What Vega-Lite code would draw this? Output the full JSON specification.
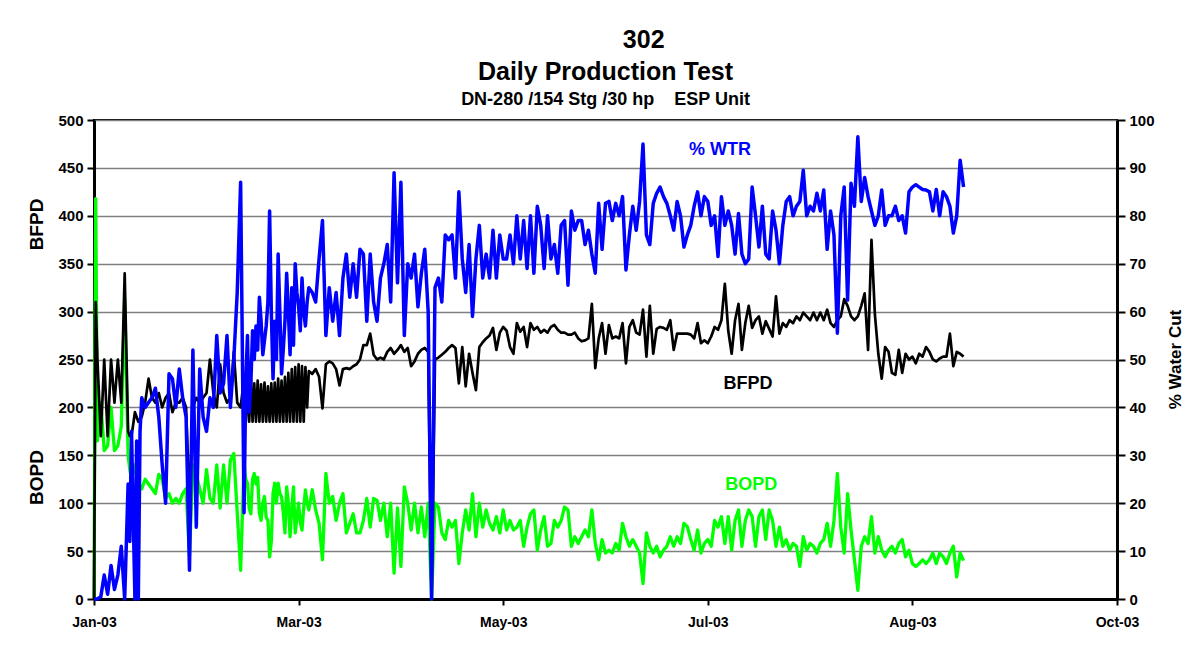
{
"$schema": "https://vega.github.io/schema/vega-lite/v6.json",
"width": 1023, "height": 479,
"autosize": {"type": "none"},
"padding": {"left": 94, "top": 120, "right": 77, "bottom": 64},
"background": "white",
"config": {"view": {"stroke": "#000", "strokeWidth": 2}, "font": "Liberation Sans"},
"title": {
  "text": ["\u200b\u00a0\u00a0\u00a0\u00a0\u00a0\u00a0\u00a0\u00a0\u00a0\u00a0\u00a0302", "Daily Production Test"],
  "subtitle": "DN-280 /154 Stg /30 hp\u00a0\u00a0\u00a0\u00a0ESP Unit",
  "anchor": "middle", "frame": "group",
  "font": "Liberation Sans", "fontSize": 25, "fontWeight": "bold", "color": "#000", "lineHeight": 32,
  "subtitleFont": "Liberation Sans", "subtitleFontSize": 18, "subtitleFontWeight": "bold", "subtitleColor": "#000", "subtitlePadding": 6,
  "offset": 4
},
"datasets": {
"labels": [
 {"label": "% WTR", "date": "2003-07-04T14:00:00Z", "value": 93.7},
 {"label": "BFPD", "date": "2003-07-12T19:00:00Z", "value": 224},
 {"label": "BOPD", "date": "2003-07-13T17:00:00Z", "value": 119.5}
],
"series": [
{"date":"2003-01-02","bfpd":0,"bopd":0,"wtr":0},
{"date":"2003-01-02T12:00:00Z","bfpd":310,"bopd":418,"wtr":0},
{"date":"2003-01-03","bfpd":250,"bopd":165,"wtr":0},
{"date":"2003-01-04","bfpd":170,"bopd":205,"wtr":0.5},
{"date":"2003-01-05","bfpd":250,"bopd":155,"wtr":5},
{"date":"2003-01-06","bfpd":170,"bopd":160,"wtr":1},
{"date":"2003-01-07","bfpd":250,"bopd":200,"wtr":7},
{"date":"2003-01-08","bfpd":205,"bopd":155,"wtr":2},
{"date":"2003-01-09","bfpd":250,"bopd":160,"wtr":5},
{"date":"2003-01-10","bfpd":205,"bopd":180,"wtr":11},
{"date":"2003-01-11","bfpd":340,"bopd":313,"wtr":0},
{"date":"2003-01-12","bfpd":175,"bopd":150,"wtr":24},
{"date":"2003-01-12T12:00:00Z","bfpd":170,"bopd":135,"wtr":12},
{"date":"2003-01-13","bfpd":170,"bopd":125,"wtr":35},
{"date":"2003-01-14","bfpd":195,"bopd":140,"wtr":0},
{"date":"2003-01-14T12:00:00Z","bfpd":190,"bopd":130,"wtr":33},
{"date":"2003-01-15","bfpd":185,"bopd":120,"wtr":0},
{"date":"2003-01-15T12:00:00Z","bfpd":188,"bopd":118,"wtr":35},
{"date":"2003-01-16","bfpd":190,"bopd":115,"wtr":42},
{"date":"2003-01-17","bfpd":205,"bopd":125,"wtr":40},
{"date":"2003-01-18","bfpd":230,"bopd":120,"wtr":41},
{"date":"2003-01-19","bfpd":210,"bopd":115,"wtr":42},
{"date":"2003-01-20","bfpd":205,"bopd":110,"wtr":44},
{"date":"2003-01-21","bfpd":215,"bopd":130,"wtr":38},
{"date":"2003-01-22","bfpd":200,"bopd":125,"wtr":28},
{"date":"2003-01-23","bfpd":210,"bopd":105,"wtr":20},
{"date":"2003-01-24","bfpd":215,"bopd":110,"wtr":47},
{"date":"2003-01-25","bfpd":195,"bopd":100,"wtr":46},
{"date":"2003-01-26","bfpd":205,"bopd":105,"wtr":40},
{"date":"2003-01-27","bfpd":205,"bopd":100,"wtr":48},
{"date":"2003-01-28","bfpd":210,"bopd":110,"wtr":42},
{"date":"2003-01-29","bfpd":200,"bopd":115,"wtr":38},
{"date":"2003-01-30","bfpd":100,"bopd":45,"wtr":6},
{"date":"2003-01-31","bfpd":200,"bopd":140,"wtr":52},
{"date":"2003-02-01","bfpd":210,"bopd":130,"wtr":15},
{"date":"2003-02-02","bfpd":205,"bopd":115,"wtr":48},
{"date":"2003-02-03","bfpd":210,"bopd":100,"wtr":38},
{"date":"2003-02-04","bfpd":215,"bopd":135,"wtr":35},
{"date":"2003-02-05","bfpd":250,"bopd":105,"wtr":42},
{"date":"2003-02-06","bfpd":215,"bopd":100,"wtr":40},
{"date":"2003-02-07","bfpd":200,"bopd":140,"wtr":55},
{"date":"2003-02-08","bfpd":245,"bopd":95,"wtr":43},
{"date":"2003-02-09","bfpd":215,"bopd":140,"wtr":45},
{"date":"2003-02-10","bfpd":205,"bopd":100,"wtr":55},
{"date":"2003-02-11","bfpd":210,"bopd":145,"wtr":40},
{"date":"2003-02-12","bfpd":258,"bopd":152,"wtr":50},
{"date":"2003-02-13","bfpd":205,"bopd":90,"wtr":64},
{"date":"2003-02-14","bfpd":200,"bopd":30,"wtr":87},
{"date":"2003-02-15","bfpd":230,"bopd":142,"wtr":18},
{"date":"2003-02-15T12:00:00Z","bfpd":185,"bopd":125,"wtr":45},
{"date":"2003-02-16","bfpd":228,"bopd":121,"wtr":55},
{"date":"2003-02-16T12:00:00Z","bfpd":185,"bopd":95,"wtr":39},
{"date":"2003-02-17","bfpd":230,"bopd":89,"wtr":45},
{"date":"2003-02-17T12:00:00Z","bfpd":185,"bopd":125,"wtr":56},
{"date":"2003-02-18","bfpd":225,"bopd":131,"wtr":50},
{"date":"2003-02-18T12:00:00Z","bfpd":185,"bopd":120,"wtr":57},
{"date":"2003-02-19","bfpd":228,"bopd":127,"wtr":52},
{"date":"2003-02-19T12:00:00Z","bfpd":185,"bopd":90,"wtr":63},
{"date":"2003-02-20","bfpd":224,"bopd":82,"wtr":58},
{"date":"2003-02-20T12:00:00Z","bfpd":185,"bopd":100,"wtr":51},
{"date":"2003-02-21","bfpd":226,"bopd":107,"wtr":54},
{"date":"2003-02-21T12:00:00Z","bfpd":185,"bopd":85,"wtr":57},
{"date":"2003-02-22","bfpd":222,"bopd":82,"wtr":62},
{"date":"2003-02-22T12:00:00Z","bfpd":185,"bopd":44,"wtr":81},
{"date":"2003-02-23","bfpd":225,"bopd":60,"wtr":60},
{"date":"2003-02-23T12:00:00Z","bfpd":185,"bopd":110,"wtr":46},
{"date":"2003-02-24","bfpd":226,"bopd":121,"wtr":58},
{"date":"2003-02-24T12:00:00Z","bfpd":185,"bopd":100,"wtr":50},
{"date":"2003-02-25","bfpd":230,"bopd":121,"wtr":72},
{"date":"2003-02-25T12:00:00Z","bfpd":185,"bopd":110,"wtr":60},
{"date":"2003-02-26","bfpd":228,"bopd":107,"wtr":47},
{"date":"2003-02-26T12:00:00Z","bfpd":185,"bopd":90,"wtr":52},
{"date":"2003-02-27","bfpd":232,"bopd":69,"wtr":58},
{"date":"2003-02-27T12:00:00Z","bfpd":185,"bopd":117,"wtr":68},
{"date":"2003-02-28","bfpd":236,"bopd":100,"wtr":60},
{"date":"2003-02-28T12:00:00Z","bfpd":185,"bopd":65,"wtr":51},
{"date":"2003-03-01","bfpd":240,"bopd":95,"wtr":65},
{"date":"2003-03-01T12:00:00Z","bfpd":185,"bopd":117,"wtr":53},
{"date":"2003-03-02","bfpd":242,"bopd":69,"wtr":70},
{"date":"2003-03-02T12:00:00Z","bfpd":185,"bopd":85,"wtr":64},
{"date":"2003-03-03","bfpd":245,"bopd":100,"wtr":61},
{"date":"2003-03-03T12:00:00Z","bfpd":185,"bopd":80,"wtr":56},
{"date":"2003-03-04","bfpd":243,"bopd":72,"wtr":67},
{"date":"2003-03-04T12:00:00Z","bfpd":185,"bopd":95,"wtr":60},
{"date":"2003-03-05","bfpd":242,"bopd":114,"wtr":57},
{"date":"2003-03-05T12:00:00Z","bfpd":200,"bopd":100,"wtr":62},
{"date":"2003-03-06","bfpd":238,"bopd":93,"wtr":65},
{"date":"2003-03-07","bfpd":235,"bopd":114,"wtr":64},
{"date":"2003-03-08","bfpd":240,"bopd":93,"wtr":62},
{"date":"2003-03-09","bfpd":232,"bopd":79,"wtr":71},
{"date":"2003-03-10","bfpd":199,"bopd":41,"wtr":79},
{"date":"2003-03-11","bfpd":245,"bopd":131,"wtr":55},
{"date":"2003-03-12","bfpd":248,"bopd":100,"wtr":65},
{"date":"2003-03-13","bfpd":246,"bopd":107,"wtr":58},
{"date":"2003-03-14","bfpd":240,"bopd":82,"wtr":64},
{"date":"2003-03-15","bfpd":223,"bopd":100,"wtr":55},
{"date":"2003-03-16","bfpd":240,"bopd":110,"wtr":67},
{"date":"2003-03-17","bfpd":241,"bopd":69,"wtr":72},
{"date":"2003-03-18","bfpd":240,"bopd":79,"wtr":63},
{"date":"2003-03-19","bfpd":243,"bopd":89,"wtr":70},
{"date":"2003-03-20","bfpd":245,"bopd":69,"wtr":63},
{"date":"2003-03-21","bfpd":250,"bopd":69,"wtr":73},
{"date":"2003-03-22","bfpd":265,"bopd":82,"wtr":72},
{"date":"2003-03-23","bfpd":265,"bopd":105,"wtr":58},
{"date":"2003-03-24","bfpd":277,"bopd":75,"wtr":72},
{"date":"2003-03-25","bfpd":255,"bopd":105,"wtr":62},
{"date":"2003-03-26","bfpd":250,"bopd":103,"wtr":58},
{"date":"2003-03-27","bfpd":252,"bopd":82,"wtr":67},
{"date":"2003-03-28","bfpd":250,"bopd":100,"wtr":70},
{"date":"2003-03-29","bfpd":258,"bopd":65,"wtr":74},
{"date":"2003-03-30","bfpd":262,"bopd":100,"wtr":62},
{"date":"2003-03-31","bfpd":256,"bopd":27,"wtr":89},
{"date":"2003-04-01","bfpd":260,"bopd":95,"wtr":66},
{"date":"2003-04-02","bfpd":265,"bopd":34,"wtr":87},
{"date":"2003-04-03","bfpd":258,"bopd":117,"wtr":55},
{"date":"2003-04-04","bfpd":262,"bopd":100,"wtr":70},
{"date":"2003-04-05","bfpd":243,"bopd":72,"wtr":67},
{"date":"2003-04-06","bfpd":248,"bopd":100,"wtr":72},
{"date":"2003-04-07","bfpd":256,"bopd":69,"wtr":61},
{"date":"2003-04-08","bfpd":260,"bopd":96,"wtr":68},
{"date":"2003-04-09","bfpd":262,"bopd":65,"wtr":73},
{"date":"2003-04-10","bfpd":258,"bopd":100,"wtr":60},
{"date":"2003-04-11","bfpd":0,"bopd":0,"wtr":0},
{"date":"2003-04-12","bfpd":250,"bopd":100,"wtr":65},
{"date":"2003-04-13","bfpd":252,"bopd":96,"wtr":67},
{"date":"2003-04-14","bfpd":255,"bopd":69,"wtr":62},
{"date":"2003-04-15","bfpd":258,"bopd":62,"wtr":76},
{"date":"2003-04-16","bfpd":262,"bopd":82,"wtr":75},
{"date":"2003-04-17","bfpd":265,"bopd":75,"wtr":76},
{"date":"2003-04-18","bfpd":262,"bopd":82,"wtr":67},
{"date":"2003-04-19","bfpd":225,"bopd":37,"wtr":85},
{"date":"2003-04-20","bfpd":263,"bopd":69,"wtr":71},
{"date":"2003-04-21","bfpd":222,"bopd":93,"wtr":64},
{"date":"2003-04-22","bfpd":256,"bopd":72,"wtr":74},
{"date":"2003-04-23","bfpd":236,"bopd":110,"wtr":59},
{"date":"2003-04-24","bfpd":218,"bopd":65,"wtr":71},
{"date":"2003-04-25","bfpd":263,"bopd":100,"wtr":78},
{"date":"2003-04-26","bfpd":268,"bopd":75,"wtr":67},
{"date":"2003-04-27","bfpd":272,"bopd":93,"wtr":72},
{"date":"2003-04-28","bfpd":275,"bopd":79,"wtr":67},
{"date":"2003-04-29","bfpd":283,"bopd":72,"wtr":77},
{"date":"2003-04-30","bfpd":260,"bopd":86,"wtr":67},
{"date":"2003-05-01","bfpd":278,"bopd":69,"wtr":76},
{"date":"2003-05-02","bfpd":284,"bopd":93,"wtr":71},
{"date":"2003-05-03","bfpd":280,"bopd":72,"wtr":71},
{"date":"2003-05-04","bfpd":263,"bopd":82,"wtr":76},
{"date":"2003-05-05","bfpd":256,"bopd":72,"wtr":70},
{"date":"2003-05-06","bfpd":288,"bopd":75,"wtr":80},
{"date":"2003-05-07","bfpd":279,"bopd":82,"wtr":71},
{"date":"2003-05-08","bfpd":284,"bopd":55,"wtr":79},
{"date":"2003-05-09","bfpd":263,"bopd":75,"wtr":69},
{"date":"2003-05-10","bfpd":288,"bopd":89,"wtr":80},
{"date":"2003-05-11","bfpd":281,"bopd":93,"wtr":68},
{"date":"2003-05-12","bfpd":284,"bopd":51,"wtr":82},
{"date":"2003-05-13","bfpd":278,"bopd":72,"wtr":78},
{"date":"2003-05-14","bfpd":281,"bopd":86,"wtr":69},
{"date":"2003-05-15","bfpd":278,"bopd":55,"wtr":80},
{"date":"2003-05-16","bfpd":284,"bopd":58,"wtr":71},
{"date":"2003-05-17","bfpd":286,"bopd":82,"wtr":74},
{"date":"2003-05-18","bfpd":281,"bopd":75,"wtr":68},
{"date":"2003-05-19","bfpd":278,"bopd":82,"wtr":78},
{"date":"2003-05-20","bfpd":278,"bopd":96,"wtr":79},
{"date":"2003-05-21","bfpd":276,"bopd":93,"wtr":65.5},
{"date":"2003-05-22","bfpd":276,"bopd":55,"wtr":81},
{"date":"2003-05-23","bfpd":278,"bopd":65,"wtr":77},
{"date":"2003-05-24","bfpd":272,"bopd":58,"wtr":79},
{"date":"2003-05-25","bfpd":269,"bopd":65,"wtr":79},
{"date":"2003-05-26","bfpd":270,"bopd":72,"wtr":74},
{"date":"2003-05-27","bfpd":272,"bopd":65,"wtr":77},
{"date":"2003-05-28","bfpd":308,"bopd":93,"wtr":72},
{"date":"2003-05-29","bfpd":241,"bopd":58,"wtr":68},
{"date":"2003-05-30","bfpd":272,"bopd":41,"wtr":82.6},
{"date":"2003-05-31","bfpd":288,"bopd":62,"wtr":73},
{"date":"2003-06-01","bfpd":256,"bopd":48,"wtr":82.6},
{"date":"2003-06-02","bfpd":286,"bopd":51,"wtr":83},
{"date":"2003-06-03","bfpd":272,"bopd":48,"wtr":79},
{"date":"2003-06-04","bfpd":274,"bopd":58,"wtr":82.6},
{"date":"2003-06-05","bfpd":272,"bopd":51,"wtr":80},
{"date":"2003-06-06","bfpd":288,"bopd":79,"wtr":84},
{"date":"2003-06-07","bfpd":246,"bopd":65,"wtr":68.7},
{"date":"2003-06-08","bfpd":284,"bopd":55,"wtr":76},
{"date":"2003-06-09","bfpd":291,"bopd":62,"wtr":82},
{"date":"2003-06-10","bfpd":278,"bopd":55,"wtr":77},
{"date":"2003-06-11","bfpd":276,"bopd":48,"wtr":83},
{"date":"2003-06-12","bfpd":302,"bopd":16,"wtr":95},
{"date":"2003-06-13","bfpd":253,"bopd":69,"wtr":76},
{"date":"2003-06-14","bfpd":306,"bopd":55,"wtr":74},
{"date":"2003-06-15","bfpd":256,"bopd":48,"wtr":82.6},
{"date":"2003-06-16","bfpd":282,"bopd":55,"wtr":84.7},
{"date":"2003-06-17","bfpd":284,"bopd":44,"wtr":86},
{"date":"2003-06-18","bfpd":283,"bopd":51,"wtr":84},
{"date":"2003-06-19","bfpd":281,"bopd":55,"wtr":82.6},
{"date":"2003-06-20","bfpd":291,"bopd":65,"wtr":80},
{"date":"2003-06-21","bfpd":260,"bopd":55,"wtr":77},
{"date":"2003-06-22","bfpd":277,"bopd":65,"wtr":83},
{"date":"2003-06-23","bfpd":277,"bopd":58,"wtr":80},
{"date":"2003-06-24","bfpd":277,"bopd":79,"wtr":73.5},
{"date":"2003-06-25","bfpd":277,"bopd":75.5,"wtr":76},
{"date":"2003-06-26","bfpd":276,"bopd":62,"wtr":78},
{"date":"2003-06-27","bfpd":272,"bopd":51,"wtr":82},
{"date":"2003-06-28","bfpd":288,"bopd":72,"wtr":85},
{"date":"2003-06-29","bfpd":267,"bopd":48,"wtr":80},
{"date":"2003-06-30","bfpd":270,"bopd":58,"wtr":84},
{"date":"2003-07-01","bfpd":267,"bopd":62,"wtr":83},
{"date":"2003-07-02","bfpd":274,"bopd":55,"wtr":78},
{"date":"2003-07-03","bfpd":284,"bopd":82,"wtr":80},
{"date":"2003-07-04","bfpd":281,"bopd":75,"wtr":71.5},
{"date":"2003-07-05","bfpd":291,"bopd":86,"wtr":84},
{"date":"2003-07-06","bfpd":329,"bopd":58,"wtr":78},
{"date":"2003-07-07","bfpd":280,"bopd":86,"wtr":81},
{"date":"2003-07-08","bfpd":256,"bopd":51,"wtr":78},
{"date":"2003-07-09","bfpd":291,"bopd":82,"wtr":72},
{"date":"2003-07-10","bfpd":308,"bopd":93,"wtr":80.5},
{"date":"2003-07-11","bfpd":260,"bopd":55,"wtr":72},
{"date":"2003-07-12","bfpd":288,"bopd":82,"wtr":70},
{"date":"2003-07-13","bfpd":306,"bopd":93,"wtr":71},
{"date":"2003-07-14","bfpd":283,"bopd":86,"wtr":86},
{"date":"2003-07-15","bfpd":291,"bopd":55,"wtr":80},
{"date":"2003-07-16","bfpd":295,"bopd":86,"wtr":73.5},
{"date":"2003-07-17","bfpd":277,"bopd":93,"wtr":82},
{"date":"2003-07-18","bfpd":290,"bopd":62,"wtr":72},
{"date":"2003-07-19","bfpd":282,"bopd":93,"wtr":71},
{"date":"2003-07-20","bfpd":274,"bopd":82,"wtr":81},
{"date":"2003-07-21","bfpd":316,"bopd":55,"wtr":77},
{"date":"2003-07-22","bfpd":277,"bopd":75,"wtr":70},
{"date":"2003-07-23","bfpd":288,"bopd":55,"wtr":78},
{"date":"2003-07-24","bfpd":284,"bopd":62,"wtr":83},
{"date":"2003-07-25","bfpd":291,"bopd":51,"wtr":84},
{"date":"2003-07-26","bfpd":288,"bopd":58,"wtr":80},
{"date":"2003-07-27","bfpd":295,"bopd":55,"wtr":82},
{"date":"2003-07-28","bfpd":291,"bopd":34,"wtr":83},
{"date":"2003-07-29","bfpd":299,"bopd":65,"wtr":89.5},
{"date":"2003-07-30","bfpd":295,"bopd":51,"wtr":80},
{"date":"2003-07-31","bfpd":291,"bopd":58,"wtr":82},
{"date":"2003-08-01","bfpd":299,"bopd":55,"wtr":81},
{"date":"2003-08-02","bfpd":291,"bopd":48,"wtr":84.7},
{"date":"2003-08-03","bfpd":299,"bopd":58,"wtr":81},
{"date":"2003-08-04","bfpd":291,"bopd":62,"wtr":85.4},
{"date":"2003-08-05","bfpd":302,"bopd":79,"wtr":73},
{"date":"2003-08-06","bfpd":288,"bopd":55,"wtr":81},
{"date":"2003-08-07","bfpd":284,"bopd":82,"wtr":76},
{"date":"2003-08-08","bfpd":291,"bopd":131,"wtr":55.5},
{"date":"2003-08-09","bfpd":295,"bopd":75,"wtr":80},
{"date":"2003-08-10","bfpd":313,"bopd":48,"wtr":86},
{"date":"2003-08-11","bfpd":306,"bopd":110,"wtr":62.4},
{"date":"2003-08-12","bfpd":295,"bopd":72,"wtr":86.8},
{"date":"2003-08-13","bfpd":291,"bopd":41,"wtr":82},
{"date":"2003-08-14","bfpd":295,"bopd":9,"wtr":96.5},
{"date":"2003-08-15","bfpd":306,"bopd":55,"wtr":83},
{"date":"2003-08-16","bfpd":319,"bopd":65,"wtr":88},
{"date":"2003-08-17","bfpd":260,"bopd":58,"wtr":84},
{"date":"2003-08-18","bfpd":375,"bopd":86,"wtr":81},
{"date":"2003-08-19","bfpd":297,"bopd":48,"wtr":78},
{"date":"2003-08-20","bfpd":256,"bopd":65,"wtr":80},
{"date":"2003-08-21","bfpd":230,"bopd":51,"wtr":85.4},
{"date":"2003-08-22","bfpd":263,"bopd":44,"wtr":78},
{"date":"2003-08-23","bfpd":258,"bopd":51,"wtr":80},
{"date":"2003-08-24","bfpd":236,"bopd":55,"wtr":80},
{"date":"2003-08-25","bfpd":234,"bopd":48,"wtr":82},
{"date":"2003-08-26","bfpd":260,"bopd":58,"wtr":79},
{"date":"2003-08-27","bfpd":236,"bopd":62,"wtr":80},
{"date":"2003-08-28","bfpd":256,"bopd":44,"wtr":76.4},
{"date":"2003-08-29","bfpd":250,"bopd":51,"wtr":85},
{"date":"2003-08-30","bfpd":253,"bopd":37,"wtr":86},
{"date":"2003-08-31","bfpd":246,"bopd":34,"wtr":86.5},
{"date":"2003-09-01","bfpd":256,"bopd":37,"wtr":86},
{"date":"2003-09-02","bfpd":253,"bopd":41,"wtr":85.5},
{"date":"2003-09-03","bfpd":263,"bopd":37,"wtr":85.4},
{"date":"2003-09-04","bfpd":258,"bopd":41,"wtr":85},
{"date":"2003-09-05","bfpd":250,"bopd":48,"wtr":81},
{"date":"2003-09-06","bfpd":248,"bopd":37,"wtr":85.5},
{"date":"2003-09-07","bfpd":251,"bopd":48,"wtr":80},
{"date":"2003-09-08","bfpd":253,"bopd":44,"wtr":85},
{"date":"2003-09-09","bfpd":253,"bopd":37,"wtr":84},
{"date":"2003-09-10","bfpd":277,"bopd":48,"wtr":82},
{"date":"2003-09-11","bfpd":243,"bopd":55,"wtr":76.4},
{"date":"2003-09-12","bfpd":258,"bopd":23,"wtr":80},
{"date":"2003-09-13","bfpd":256,"bopd":48,"wtr":91.6},
{"date":"2003-09-14","bfpd":253,"bopd":40,"wtr":86}
]
},
"encoding": {
  "x": {
    "field": "date", "type": "temporal",
    "scale": {"type": "utc", "domain": [{"year": 2003, "month": 1, "date": 2, "utc": true}, {"year": 2003, "month": 10, "date": 29, "utc": true}]},
    "axis": {
      "orient": "bottom", "title": null, "grid": false,
      "values": [
        {"year": 2003, "month": 1, "date": 2, "utc": true},
        {"year": 2003, "month": 3, "date": 3, "utc": true},
        {"year": 2003, "month": 5, "date": 2, "utc": true},
        {"year": 2003, "month": 7, "date": 1, "utc": true},
        {"year": 2003, "month": 8, "date": 30, "utc": true},
        {"year": 2003, "month": 10, "date": 29, "utc": true}
      ],
      "format": "%b-%y", "labelFlush": false, "labelOverlap": false,
      "domainColor": "#000", "domainWidth": 3, "tickColor": "#000", "tickWidth": 2, "tickSize": 6,
      "labelPadding": 10, "labelFont": "Liberation Sans", "labelFontSize": 14, "labelFontWeight": "bold", "labelColor": "#000"
    }
  }
},
"layer": [
  {
    "data": {"name": "series"},
    "mark": {"type": "line", "color": "#00FF00", "strokeWidth": 3.3, "strokeJoin": "round"},
    "encoding": {
      "y": {"field": "bopd", "type": "quantitative", "scale": {"domain": [0, 500], "nice": false},
        "axis": {"orient": "left", "labels": false, "ticks": false, "domain": false, "grid": false,
          "title": "BOPD", "titleX": -58, "titleY": 357, "titleAngle": 270, "titleAlign": "center", "titleBaseline": "middle",
          "titleFont": "Liberation Sans", "titleFontSize": 19, "titleFontWeight": "bold", "titleColor": "#000"}}
    }
  },
  {
    "data": {"name": "series"},
    "mark": {"type": "line", "color": "#000000", "strokeWidth": 2.7, "strokeJoin": "round"},
    "encoding": {
      "y": {"field": "bfpd", "type": "quantitative", "scale": {"domain": [0, 500], "nice": false},
        "axis": {"orient": "left", "values": [0, 50, 100, 150, 200, 250, 300, 350, 400, 450, 500],
          "grid": true, "gridColor": "#808080", "gridWidth": 1.5,
          "domainColor": "#000", "domainWidth": 3, "tickColor": "#000", "tickWidth": 2, "tickSize": 7,
          "labelPadding": 4, "labelFont": "Liberation Sans", "labelFontSize": 15, "labelFontWeight": "bold", "labelColor": "#000",
          "title": "BFPD", "titleX": -58, "titleY": 104, "titleAngle": 270, "titleAlign": "center", "titleBaseline": "middle",
          "titleFont": "Liberation Sans", "titleFontSize": 19, "titleFontWeight": "bold", "titleColor": "#000"}}
    }
  },
  {
    "data": {"name": "series"},
    "mark": {"type": "line", "color": "#0000FF", "strokeWidth": 3.5, "strokeJoin": "round"},
    "encoding": {
      "y": {"field": "wtr", "type": "quantitative", "scale": {"domain": [0, 100], "nice": false},
        "axis": {"orient": "right", "values": [0, 10, 20, 30, 40, 50, 60, 70, 80, 90, 100], "grid": false,
          "domainColor": "#000", "domainWidth": 3, "tickColor": "#000", "tickWidth": 2, "tickSize": 8,
          "labelPadding": 4, "labelFont": "Liberation Sans", "labelFontSize": 15, "labelFontWeight": "bold", "labelColor": "#000",
          "title": "% Water Cut", "titleX": 58, "titleY": 239, "titleAngle": 270, "titleAlign": "center", "titleBaseline": "middle",
          "titleFont": "Liberation Sans", "titleFontSize": 17, "titleFontWeight": "bold", "titleColor": "#000"}}
    }
  },
  {
    "data": {"name": "labels"},
    "transform": [{"filter": {"field": "label", "oneOf": ["BFPD", "BOPD"]}}],
    "mark": {"type": "text", "font": "Liberation Sans", "fontWeight": "bold", "fontSize": 18, "align": "center", "baseline": "middle"},
    "encoding": {
      "y": {"field": "value", "type": "quantitative", "scale": {"domain": [0, 500], "nice": false}, "axis": null},
      "text": {"field": "label"},
      "color": {"field": "label", "type": "nominal", "scale": {"domain": ["BFPD", "BOPD", "% WTR"], "range": ["#000000", "#00FF00", "#0000FF"]}, "legend": null}
    }
  },
  {
    "data": {"name": "labels"},
    "transform": [{"filter": {"field": "label", "oneOf": ["% WTR"]}}],
    "mark": {"type": "text", "font": "Liberation Sans", "fontWeight": "bold", "fontSize": 18, "align": "center", "baseline": "middle"},
    "encoding": {
      "y": {"field": "value", "type": "quantitative", "scale": {"domain": [0, 100], "nice": false}, "axis": null},
      "text": {"field": "label"},
      "color": {"field": "label", "type": "nominal", "scale": {"domain": ["BFPD", "BOPD", "% WTR"], "range": ["#000000", "#00FF00", "#0000FF"]}, "legend": null}
    }
  }
],
"resolve": {"scale": {"y": "independent"}}
}
